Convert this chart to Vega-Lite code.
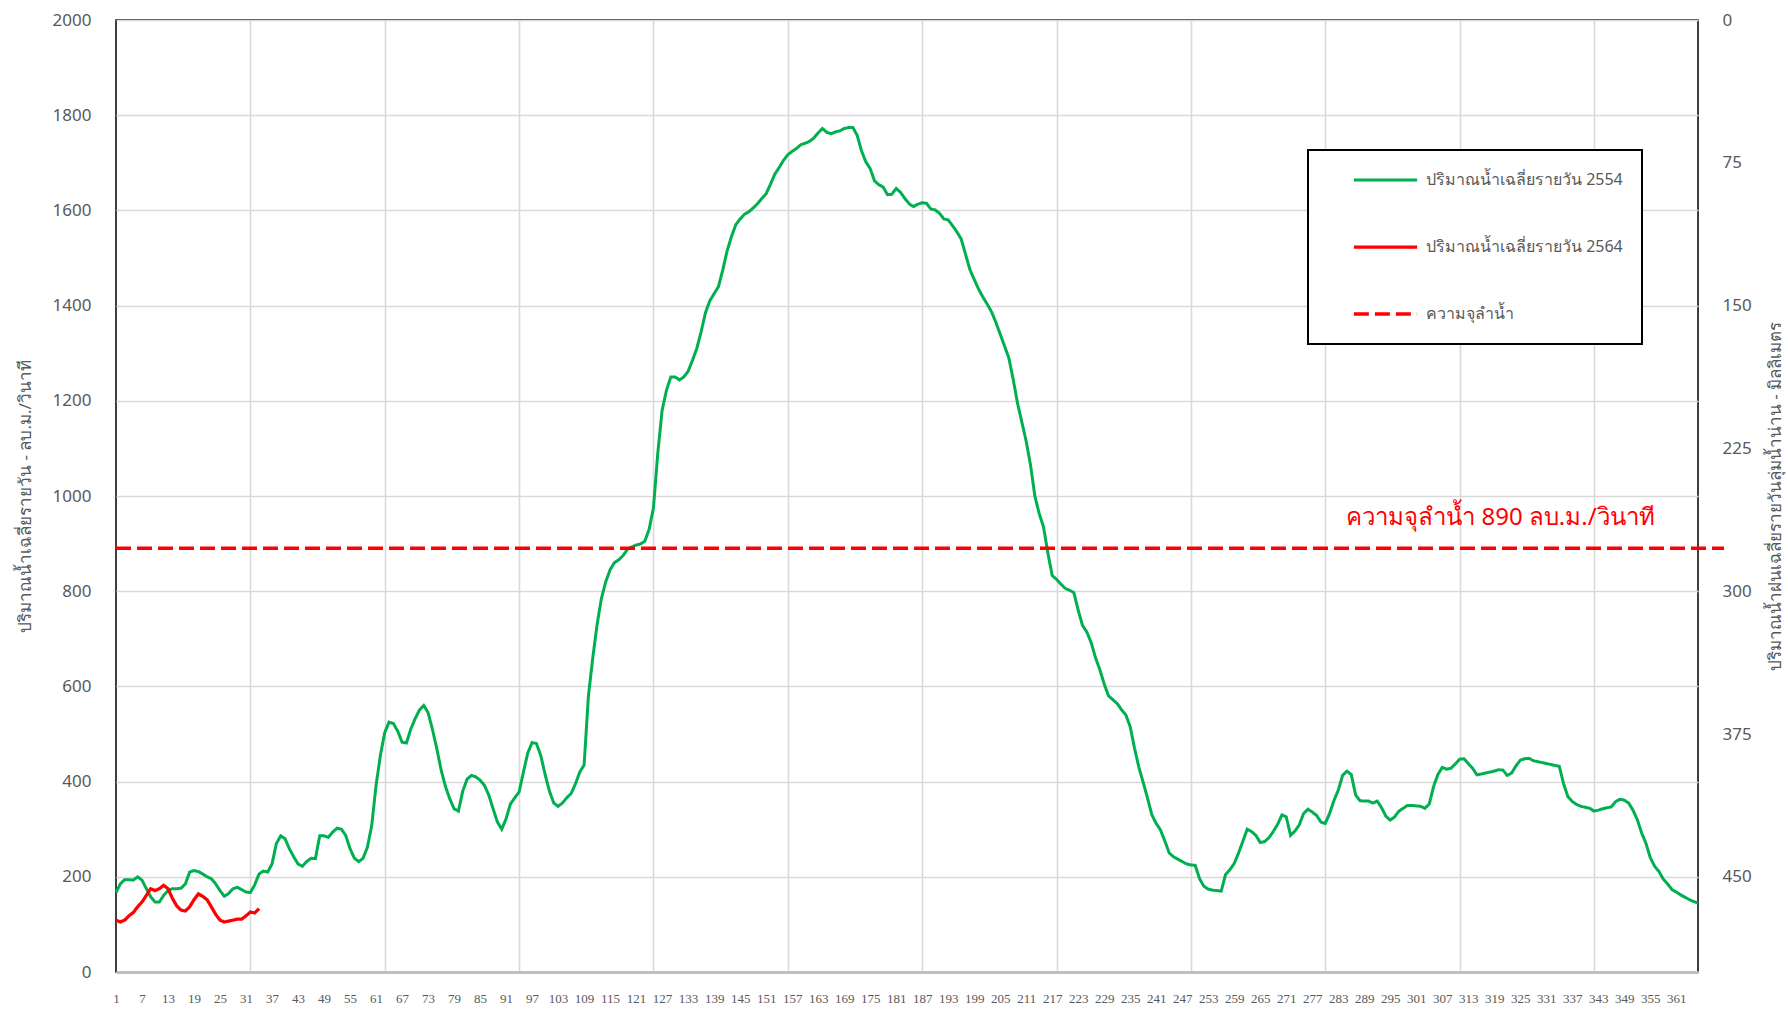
{
"$schema":"https://vega.github.io/schema/vega-lite/v6.json",
"width":1582,"height":952,
"autosize":"none",
"padding":{"left":116,"top":20,"right":90,"bottom":37},
"background":"white",
"config":{"font":"Noto Sans","view":{"stroke":"black","strokeWidth":1.5},
"legend":{"strokeWidth":2},
"axis":{"labelColor":"#595959","titleColor":"#595959","titleFontWeight":"normal","gridColor":"#d9d9d9","gridWidth":1.6,"ticks":false}},
"datasets":{
"flow":[
{"s":"a","d":1,"q":167},{"s":"a","d":2,"q":185},{"s":"a","d":3,"q":194},{"s":"a","d":4,"q":194},{"s":"a","d":5,"q":193},{"s":"a","d":6,"q":200},{"s":"a","d":7,"q":193},{"s":"a","d":8,"q":175},{"s":"a","d":9,"q":158},{"s":"a","d":10,"q":147},
{"s":"a","d":11,"q":147},{"s":"a","d":12,"q":161},{"s":"a","d":13,"q":171},{"s":"a","d":14,"q":175},{"s":"a","d":15,"q":175},{"s":"a","d":16,"q":176},{"s":"a","d":17,"q":185},{"s":"a","d":18,"q":210},{"s":"a","d":19,"q":213},{"s":"a","d":20,"q":211},
{"s":"a","d":21,"q":206},{"s":"a","d":22,"q":200},{"s":"a","d":23,"q":196},{"s":"a","d":24,"q":185},{"s":"a","d":25,"q":171},{"s":"a","d":26,"q":159},{"s":"a","d":27,"q":165},{"s":"a","d":28,"q":175},{"s":"a","d":29,"q":178},{"s":"a","d":30,"q":173},
{"s":"a","d":31,"q":168},{"s":"a","d":32,"q":167},{"s":"a","d":33,"q":183},{"s":"a","d":34,"q":206},{"s":"a","d":35,"q":212},{"s":"a","d":36,"q":210},{"s":"a","d":37,"q":227},{"s":"a","d":38,"q":270},{"s":"a","d":39,"q":286},{"s":"a","d":40,"q":280},
{"s":"a","d":41,"q":259},{"s":"a","d":42,"q":242},{"s":"a","d":43,"q":227},{"s":"a","d":44,"q":222},{"s":"a","d":45,"q":232},{"s":"a","d":46,"q":239},{"s":"a","d":47,"q":238},{"s":"a","d":48,"q":286},{"s":"a","d":49,"q":286},{"s":"a","d":50,"q":283},
{"s":"a","d":51,"q":294},{"s":"a","d":52,"q":302},{"s":"a","d":53,"q":300},{"s":"a","d":54,"q":287},{"s":"a","d":55,"q":259},{"s":"a","d":56,"q":239},{"s":"a","d":57,"q":232},{"s":"a","d":58,"q":239},{"s":"a","d":59,"q":262},{"s":"a","d":60,"q":308},
{"s":"a","d":61,"q":392},{"s":"a","d":62,"q":455},{"s":"a","d":63,"q":503},{"s":"a","d":64,"q":525},{"s":"a","d":65,"q":522},{"s":"a","d":66,"q":506},{"s":"a","d":67,"q":483},{"s":"a","d":68,"q":481},{"s":"a","d":69,"q":510},{"s":"a","d":70,"q":532},
{"s":"a","d":71,"q":550},{"s":"a","d":72,"q":560},{"s":"a","d":73,"q":545},{"s":"a","d":74,"q":510},{"s":"a","d":75,"q":470},{"s":"a","d":76,"q":425},{"s":"a","d":77,"q":390},{"s":"a","d":78,"q":364},{"s":"a","d":79,"q":343},{"s":"a","d":80,"q":338},
{"s":"a","d":81,"q":380},{"s":"a","d":82,"q":405},{"s":"a","d":83,"q":413},{"s":"a","d":84,"q":410},{"s":"a","d":85,"q":403},{"s":"a","d":86,"q":392},{"s":"a","d":87,"q":372},{"s":"a","d":88,"q":343},{"s":"a","d":89,"q":315},{"s":"a","d":90,"q":300},
{"s":"a","d":91,"q":322},{"s":"a","d":92,"q":353},{"s":"a","d":93,"q":366},{"s":"a","d":94,"q":378},{"s":"a","d":95,"q":420},{"s":"a","d":96,"q":460},{"s":"a","d":97,"q":482},{"s":"a","d":98,"q":480},{"s":"a","d":99,"q":455},{"s":"a","d":100,"q":415},
{"s":"a","d":101,"q":380},{"s":"a","d":102,"q":355},{"s":"a","d":103,"q":348},{"s":"a","d":104,"q":355},{"s":"a","d":105,"q":366},{"s":"a","d":106,"q":375},{"s":"a","d":107,"q":395},{"s":"a","d":108,"q":420},{"s":"a","d":109,"q":435},{"s":"a","d":110,"q":580},
{"s":"a","d":111,"q":660},{"s":"a","d":112,"q":730},{"s":"a","d":113,"q":785},{"s":"a","d":114,"q":820},{"s":"a","d":115,"q":845},{"s":"a","d":116,"q":860},{"s":"a","d":117,"q":866},{"s":"a","d":118,"q":875},{"s":"a","d":119,"q":888},{"s":"a","d":120,"q":893},
{"s":"a","d":121,"q":897},{"s":"a","d":122,"q":899},{"s":"a","d":123,"q":905},{"s":"a","d":124,"q":930},{"s":"a","d":125,"q":975},{"s":"a","d":126,"q":1090},{"s":"a","d":127,"q":1180},{"s":"a","d":128,"q":1222},{"s":"a","d":129,"q":1250},{"s":"a","d":130,"q":1250},
{"s":"a","d":131,"q":1244},{"s":"a","d":132,"q":1250},{"s":"a","d":133,"q":1262},{"s":"a","d":134,"q":1285},{"s":"a","d":135,"q":1310},{"s":"a","d":136,"q":1345},{"s":"a","d":137,"q":1385},{"s":"a","d":138,"q":1410},{"s":"a","d":139,"q":1425},{"s":"a","d":140,"q":1440},
{"s":"a","d":141,"q":1475},{"s":"a","d":142,"q":1515},{"s":"a","d":143,"q":1545},{"s":"a","d":144,"q":1570},{"s":"a","d":145,"q":1582},{"s":"a","d":146,"q":1592},{"s":"a","d":147,"q":1597},{"s":"a","d":148,"q":1605},{"s":"a","d":149,"q":1614},{"s":"a","d":150,"q":1625},
{"s":"a","d":151,"q":1635},{"s":"a","d":152,"q":1655},{"s":"a","d":153,"q":1676},{"s":"a","d":154,"q":1690},{"s":"a","d":155,"q":1705},{"s":"a","d":156,"q":1717},{"s":"a","d":157,"q":1724},{"s":"a","d":158,"q":1730},{"s":"a","d":159,"q":1738},{"s":"a","d":160,"q":1741},
{"s":"a","d":161,"q":1745},{"s":"a","d":162,"q":1752},{"s":"a","d":163,"q":1763},{"s":"a","d":164,"q":1772},{"s":"a","d":165,"q":1764},{"s":"a","d":166,"q":1761},{"s":"a","d":167,"q":1765},{"s":"a","d":168,"q":1767},{"s":"a","d":169,"q":1772},{"s":"a","d":170,"q":1774},
{"s":"a","d":171,"q":1774},{"s":"a","d":172,"q":1758},{"s":"a","d":173,"q":1725},{"s":"a","d":174,"q":1702},{"s":"a","d":175,"q":1688},{"s":"a","d":176,"q":1662},{"s":"a","d":177,"q":1654},{"s":"a","d":178,"q":1649},{"s":"a","d":179,"q":1633},{"s":"a","d":180,"q":1634},
{"s":"a","d":181,"q":1646},{"s":"a","d":182,"q":1638},{"s":"a","d":183,"q":1625},{"s":"a","d":184,"q":1614},{"s":"a","d":185,"q":1608},{"s":"a","d":186,"q":1613},{"s":"a","d":187,"q":1616},{"s":"a","d":188,"q":1615},{"s":"a","d":189,"q":1603},{"s":"a","d":190,"q":1601},
{"s":"a","d":191,"q":1594},{"s":"a","d":192,"q":1582},{"s":"a","d":193,"q":1580},{"s":"a","d":194,"q":1568},{"s":"a","d":195,"q":1555},{"s":"a","d":196,"q":1540},{"s":"a","d":197,"q":1508},{"s":"a","d":198,"q":1476},{"s":"a","d":199,"q":1455},{"s":"a","d":200,"q":1435},
{"s":"a","d":201,"q":1418},{"s":"a","d":202,"q":1403},{"s":"a","d":203,"q":1387},{"s":"a","d":204,"q":1365},{"s":"a","d":205,"q":1340},{"s":"a","d":206,"q":1315},{"s":"a","d":207,"q":1290},{"s":"a","d":208,"q":1245},{"s":"a","d":209,"q":1195},{"s":"a","d":210,"q":1155},
{"s":"a","d":211,"q":1115},{"s":"a","d":212,"q":1065},{"s":"a","d":213,"q":1000},{"s":"a","d":214,"q":963},{"s":"a","d":215,"q":935},{"s":"a","d":216,"q":880},{"s":"a","d":217,"q":833},{"s":"a","d":218,"q":825},{"s":"a","d":219,"q":815},{"s":"a","d":220,"q":806},
{"s":"a","d":221,"q":802},{"s":"a","d":222,"q":797},{"s":"a","d":223,"q":760},{"s":"a","d":224,"q":728},{"s":"a","d":225,"q":714},{"s":"a","d":226,"q":692},{"s":"a","d":227,"q":660},{"s":"a","d":228,"q":635},{"s":"a","d":229,"q":605},{"s":"a","d":230,"q":580},
{"s":"a","d":231,"q":572},{"s":"a","d":232,"q":564},{"s":"a","d":233,"q":551},{"s":"a","d":234,"q":540},{"s":"a","d":235,"q":515},{"s":"a","d":236,"q":470},{"s":"a","d":237,"q":430},{"s":"a","d":238,"q":398},{"s":"a","d":239,"q":365},{"s":"a","d":240,"q":330},
{"s":"a","d":241,"q":312},{"s":"a","d":242,"q":298},{"s":"a","d":243,"q":275},{"s":"a","d":244,"q":250},{"s":"a","d":245,"q":242},{"s":"a","d":246,"q":237},{"s":"a","d":247,"q":232},{"s":"a","d":248,"q":227},{"s":"a","d":249,"q":225},{"s":"a","d":250,"q":224},
{"s":"a","d":251,"q":196},{"s":"a","d":252,"q":180},{"s":"a","d":253,"q":174},{"s":"a","d":254,"q":172},{"s":"a","d":255,"q":171},{"s":"a","d":256,"q":170},{"s":"a","d":257,"q":205},{"s":"a","d":258,"q":215},{"s":"a","d":259,"q":228},{"s":"a","d":260,"q":250},
{"s":"a","d":261,"q":275},{"s":"a","d":262,"q":300},{"s":"a","d":263,"q":295},{"s":"a","d":264,"q":287},{"s":"a","d":265,"q":272},{"s":"a","d":266,"q":274},{"s":"a","d":267,"q":282},{"s":"a","d":268,"q":295},{"s":"a","d":269,"q":310},{"s":"a","d":270,"q":330},
{"s":"a","d":271,"q":326},{"s":"a","d":272,"q":287},{"s":"a","d":273,"q":296},{"s":"a","d":274,"q":309},{"s":"a","d":275,"q":333},{"s":"a","d":276,"q":342},{"s":"a","d":277,"q":336},{"s":"a","d":278,"q":329},{"s":"a","d":279,"q":315},{"s":"a","d":280,"q":312},
{"s":"a","d":281,"q":333},{"s":"a","d":282,"q":360},{"s":"a","d":283,"q":382},{"s":"a","d":284,"q":413},{"s":"a","d":285,"q":422},{"s":"a","d":286,"q":415},{"s":"a","d":287,"q":372},{"s":"a","d":288,"q":360},{"s":"a","d":289,"q":359},{"s":"a","d":290,"q":359},
{"s":"a","d":291,"q":355},{"s":"a","d":292,"q":359},{"s":"a","d":293,"q":345},{"s":"a","d":294,"q":327},{"s":"a","d":295,"q":319},{"s":"a","d":296,"q":326},{"s":"a","d":297,"q":338},{"s":"a","d":298,"q":344},{"s":"a","d":299,"q":350},{"s":"a","d":300,"q":350},
{"s":"a","d":301,"q":349},{"s":"a","d":302,"q":348},{"s":"a","d":303,"q":344},{"s":"a","d":304,"q":353},{"s":"a","d":305,"q":390},{"s":"a","d":306,"q":415},{"s":"a","d":307,"q":430},{"s":"a","d":308,"q":426},{"s":"a","d":309,"q":428},{"s":"a","d":310,"q":437},
{"s":"a","d":311,"q":447},{"s":"a","d":312,"q":448},{"s":"a","d":313,"q":438},{"s":"a","d":314,"q":428},{"s":"a","d":315,"q":414},{"s":"a","d":316,"q":416},{"s":"a","d":317,"q":418},{"s":"a","d":318,"q":420},{"s":"a","d":319,"q":422},{"s":"a","d":320,"q":425},
{"s":"a","d":321,"q":424},{"s":"a","d":322,"q":413},{"s":"a","d":323,"q":418},{"s":"a","d":324,"q":433},{"s":"a","d":325,"q":445},{"s":"a","d":326,"q":448},{"s":"a","d":327,"q":449},{"s":"a","d":328,"q":444},{"s":"a","d":329,"q":442},{"s":"a","d":330,"q":440},
{"s":"a","d":331,"q":438},{"s":"a","d":332,"q":436},{"s":"a","d":333,"q":434},{"s":"a","d":334,"q":432},{"s":"a","d":335,"q":395},{"s":"a","d":336,"q":368},{"s":"a","d":337,"q":358},{"s":"a","d":338,"q":352},{"s":"a","d":339,"q":348},{"s":"a","d":340,"q":346},
{"s":"a","d":341,"q":344},{"s":"a","d":342,"q":338},{"s":"a","d":343,"q":340},{"s":"a","d":344,"q":343},{"s":"a","d":345,"q":345},{"s":"a","d":346,"q":347},{"s":"a","d":347,"q":358},{"s":"a","d":348,"q":363},{"s":"a","d":349,"q":361},{"s":"a","d":350,"q":355},
{"s":"a","d":351,"q":340},{"s":"a","d":352,"q":320},{"s":"a","d":353,"q":292},{"s":"a","d":354,"q":270},{"s":"a","d":355,"q":240},{"s":"a","d":356,"q":222},{"s":"a","d":357,"q":211},{"s":"a","d":358,"q":195},{"s":"a","d":359,"q":185},{"s":"a","d":360,"q":173},
{"s":"a","d":361,"q":168},{"s":"a","d":362,"q":162},{"s":"a","d":363,"q":157},{"s":"a","d":364,"q":152},{"s":"a","d":365,"q":148},{"s":"a","d":366,"q":145},
{"s":"b","d":1,"q":109},{"s":"b","d":2,"q":105},{"s":"b","d":3,"q":109},{"s":"b","d":4,"q":118},{"s":"b","d":5,"q":125},{"s":"b","d":6,"q":137},{"s":"b","d":7,"q":147},{"s":"b","d":8,"q":161},{"s":"b","d":9,"q":175},{"s":"b","d":10,"q":171},
{"s":"b","d":11,"q":175},{"s":"b","d":12,"q":182},{"s":"b","d":13,"q":175},{"s":"b","d":14,"q":155},{"s":"b","d":15,"q":139},{"s":"b","d":16,"q":130},{"s":"b","d":17,"q":128},{"s":"b","d":18,"q":137},{"s":"b","d":19,"q":152},{"s":"b","d":20,"q":164},
{"s":"b","d":21,"q":159},{"s":"b","d":22,"q":152},{"s":"b","d":23,"q":137},{"s":"b","d":24,"q":121},{"s":"b","d":25,"q":109},{"s":"b","d":26,"q":105},{"s":"b","d":27,"q":107},{"s":"b","d":28,"q":109},{"s":"b","d":29,"q":111},{"s":"b","d":30,"q":111},
{"s":"b","d":31,"q":118},{"s":"b","d":32,"q":126},{"s":"b","d":33,"q":124},{"s":"b","d":34,"q":133},
{"s":"c","d":1,"q":890},{"s":"c","d":372,"q":890}
],
"note":[{"d":356,"q":953,"t":"ความจุลำน้ำ 890 ลบ.ม./วินาที"}],
"rain":[]
},
"layer":[
{"data":{"name":"flow"},
 "mark":{"type":"line","clip":false,"strokeCap":"butt"},
 "encoding":{
  "x":{"field":"d","type":"quantitative","scale":{"domain":[1,366],"nice":false,"zero":false},
       "axis":{"title":null,"values":[1,7,13,19,25,31,37,43,49,55,61,67,73,79,85,91,97,103,109,115,121,127,133,139,145,151,157,163,169,175,181,187,193,199,205,211,217,223,229,235,241,247,253,259,265,271,277,283,289,295,301,307,313,319,325,331,337,343,349,355,361],
       "grid":false,"labelOverlap":false,"labelFont":"Liberation Sans Narrow","labelFontSize":13,"labelPadding":20,"domainColor":"#bfbfbf","domainWidth":3,"labelFlush":false}},
  "y":{"field":"q","type":"quantitative","scale":{"domain":[0,2000],"nice":false},
       "axis":{"title":"ปริมาณน้ำเฉลี่ยรายวัน - ลบ.ม./วินาที","values":[0,200,400,600,800,1000,1200,1400,1600,1800,2000],"format":"d","labelFontSize":17,"labelPadding":25,"domain":false,
       "titleFontSize":17,"titleAngle":270,"titleX":-91,"titleY":476,"titleAlign":"center","titleBaseline":"middle"}},
  "color":{"field":"s","type":"nominal","scale":{"domain":["a","b","c"],"range":["#00B050","#FF0000","#FF0000"]},
     "legend":{"title":null,"orient":"none","legendX":1192,"legendY":130,"strokeColor":"black","fillColor":"white","padding":19,"rowPadding":45,"clipHeight":22,"symbolOffset":25,
       "symbolType":"stroke","symbolSize":4000,"symbolStrokeWidth":3.5,"labelFontSize":16,"labelColor":"#595959","labelOffset":7,"labelLimit":400,
       "labelExpr":"datum.value == 'a' ? 'ปริมาณน้ำเฉลี่ยรายวัน 2554' : datum.value == 'b' ? 'ปริมาณน้ำเฉลี่ยรายวัน 2564' : 'ความจุลำน้ำ'"}},
  "strokeDash":{"field":"s","type":"nominal","scale":{"domain":["a","b","c"],"range":[[1,0],[1,0],[15,6]]},"legend":null},
  "strokeWidth":{"field":"s","type":"nominal","scale":{"domain":["a","b","c"],"range":[3,3.5,4]},"legend":null}
 }},
{"data":{"name":"note"},
 "mark":{"type":"text","color":"#FF0000","fontSize":24,"align":"right","baseline":"middle"},
 "encoding":{
  "x":{"field":"d","type":"quantitative","axis":{"title":null,"values":[32,63,94,125,156,187,218,249,280,311,342],"grid":true,"labels":false,"domain":false}},
  "y":{"field":"q","type":"quantitative","scale":{"domain":[0,2000],"nice":false},"axis":null},
  "text":{"field":"t"}
 }},
{"data":{"name":"rain"},
 "mark":{"type":"rule"},
 "encoding":{
  "y":{"field":"r","type":"quantitative","scale":{"domain":[0,500],"reverse":true,"nice":false,"zero":true},
   "axis":{"orient":"right","title":"ปริมาณน้ำฝนเฉลี่ยรายวันลุ่มน้ำน่าน - มิลลิเมตร","values":[0,75,150,225,300,375,450],"grid":false,"domain":false,"labelFontSize":17,"labelPadding":24,
   "titleFontSize":17,"titleAngle":270,"titleX":77,"titleY":476,"titleAlign":"center","titleBaseline":"middle"}}
 }}
],
"resolve":{"scale":{"y":"independent"},"axis":{"x":"independent"}}
}
